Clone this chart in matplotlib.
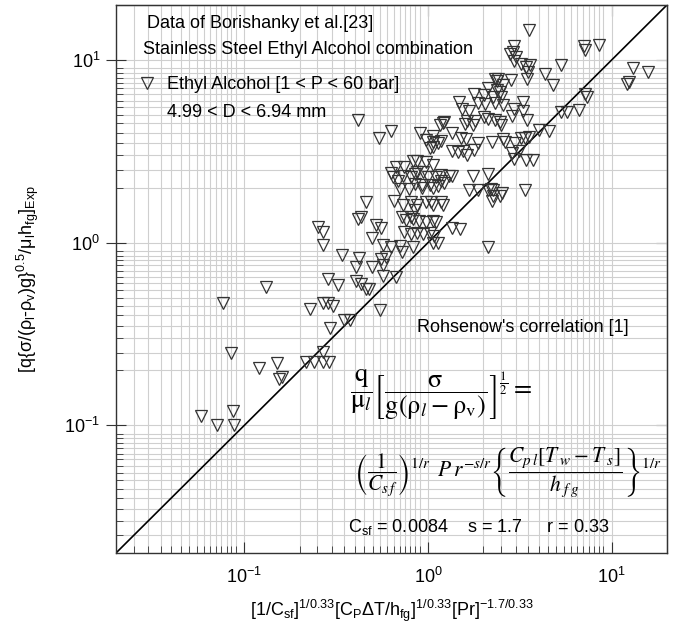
import numpy as np
import matplotlib
matplotlib.use("Agg")
import matplotlib.pyplot as plt
from matplotlib.ticker import LogLocator, LogFormatterMathtext, NullFormatter

plt.rcParams["font.family"] = "Liberation Sans"
plt.rcParams["mathtext.fontset"] = "custom"
plt.rcParams["mathtext.rm"] = "Liberation Sans"
plt.rcParams["mathtext.it"] = "Liberation Sans"
plt.rcParams["mathtext.bf"] = "Liberation Sans:bold"
plt.rcParams["axes.unicode_minus"] = False

# Borishansky et al. data, stainless steel / ethyl alcohol
# x: Rohsenow group, y: measured boiling group
x_pred = [0.058, 0.071, 0.087, 0.088, 0.076, 0.084, 0.131, 0.120, 0.150, 0.154,
          0.161, 0.227, 0.217, 0.239, 0.268, 0.267, 0.289, 0.252, 0.269, 0.267,
          0.340, 0.286, 0.325, 0.267, 0.284, 0.302, 0.294, 0.349, 0.375, 0.546,
          0.415, 0.457, 0.417, 0.433, 0.518, 0.552, 0.496, 0.567, 0.422, 0.404,
          0.496, 0.552, 0.567, 0.592, 0.404, 0.433, 0.457, 0.478, 0.567, 0.667,
          0.543, 0.632,
          0.907, 0.973, 1.06, 1.13, 1.07, 1.03, 1.21, 1.22, 1.35, 1.51,
          1.62, 1.86, 2.22, 1.56, 1.35, 1.46, 1.63, 1.78, 2.57, 2.64,
          0.828, 0.874, 0.973, 1.06, 0.743, 0.667, 0.625, 0.642, 0.685, 0.731,
          0.806, 0.850, 0.874, 0.937, 1.00, 1.11, 1.18, 1.30, 1.35, 1.18,
          1.22, 1.76, 2.13, 0.850, 0.922, 1.03, 0.704, 0.784, 0.922, 1.06,
          1.13, 1.67, 1.86, 2.11, 2.25, 2.53, 3.37, 2.25, 2.22, 2.46,
          0.649, 0.731, 0.806, 0.874, 0.973, 1.04, 1.06, 1.18, 1.21, 0.850,
          0.723, 0.806, 0.898, 0.973, 0.828, 0.763, 1.06, 1.11, 0.743, 0.806,
          0.874, 0.937, 1.03, 1.08, 1.35, 1.50, 1.06, 1.13, 0.828, 0.704,
          0.632, 0.723, 2.11,
          3.56, 2.94, 2.91, 2.79, 3.03, 2.94, 3.19, 3.61, 3.42, 3.50,
          3.46, 4.34, 5.27, 7.06, 8.53, 7.17, 13.0, 15.8, 12.1, 12.5,
          2.31, 2.41, 2.84, 2.37, 2.55, 2.13, 2.37, 2.48, 1.79, 2.02,
          2.25, 2.50, 3.28, 1.86, 2.04, 2.31, 2.57, 2.94, 3.28, 1.54,
          1.67, 1.48, 1.63, 1.81, 2.02, 2.13, 2.31, 2.48, 2.50, 2.87,
          3.46, 4.03, 4.58, 5.27, 5.71, 6.61, 7.31, 7.15, 2.99, 3.19,
          3.37, 3.56, 2.87, 3.11, 2.94, 3.42, 3.75, 2.19, 1.16, 1.58,
          1.76, 1.06, 1.18, 4.77]
y_exp = [0.113, 0.100, 0.119, 0.100, 0.465, 0.248, 0.574, 0.207, 0.218, 0.180,
         0.183, 0.431, 0.221, 0.221, 0.253, 0.221, 0.221, 1.22, 1.15, 0.965,
         0.855, 0.635, 0.583, 0.470, 0.470, 0.447, 0.342, 0.375, 0.378, 0.429,
         4.72, 1.67, 1.34, 1.39, 1.25, 1.21, 1.06, 0.965, 0.826, 0.739,
         0.739, 0.818, 0.750, 0.838, 0.620, 0.595, 0.560, 0.555, 0.658, 0.645,
         3.74, 4.06,
         3.96, 3.65, 3.56, 3.52, 3.32, 3.28, 4.51, 4.60, 4.00, 3.76,
         3.71, 3.52, 3.56, 3.16, 3.19, 3.14, 3.03, 3.22, 3.71, 3.54,
         2.81, 2.81, 2.78, 2.67, 2.58, 2.60, 2.42, 2.30, 2.18, 2.32,
         2.30, 2.39, 2.44, 2.44, 2.30, 2.30, 2.36, 2.33, 2.33, 2.18,
         2.11, 2.33, 2.37, 2.10, 2.08, 2.08, 1.97, 1.97, 1.99, 1.99,
         2.05, 1.95, 1.95, 1.95, 1.93, 1.88, 1.93, 1.80, 1.70, 1.81,
         1.68, 1.61, 1.66, 1.61, 1.66, 1.66, 1.61, 1.66, 1.61, 1.50,
         1.39, 1.39, 1.32, 1.29, 1.35, 1.33, 1.32, 1.30, 1.15, 1.12,
         1.13, 1.11, 1.13, 1.09, 1.21, 1.19, 1.00, 1.00, 0.951, 0.960,
         0.951, 0.891, 0.946,
         14.6, 11.9, 11.1, 10.8, 10.4, 9.90, 9.51, 9.41, 9.18, 8.60,
         7.89, 8.38, 9.41, 11.9, 12.1, 11.4, 9.0, 8.6, 7.4, 7.6,
         7.89, 7.89, 7.81, 7.69, 7.31, 7.03, 6.89, 6.72, 6.55, 6.45,
         6.29, 6.29, 5.92, 5.83, 5.77, 5.83, 5.69, 5.41, 5.27, 5.36,
         5.27, 5.92, 4.65, 4.65, 4.89, 4.77, 4.70, 4.58, 4.38, 4.94,
         4.70, 4.16, 4.10, 5.19, 5.20, 5.33, 6.30, 6.49, 3.49, 3.76,
         3.76, 3.80, 3.11, 3.19, 2.88, 2.84, 2.84, 1.97, 4.42, 4.49,
         4.42, 3.84, 3.61, 7.30]

# y = x parity line
parity = [0.02, 20]

LIMITS = (0.02, 20)
MINOR_SUBS = np.arange(2, 9.5, 0.5)
GRID = "#cfcfcf"
EDGE = "#333333"

fig = plt.figure(figsize=(6.75, 6.29), dpi=100)
ax = fig.add_axes([0.172, 0.121, 0.816, 0.871])
ax.set_xscale("log")
ax.set_yscale("log")
ax.set_xlim(LIMITS)
ax.set_ylim(LIMITS)

ax.plot(parity, parity, color="black", lw=1.2, zorder=2)
ax.plot(x_pred, y_exp, ls="none", marker="v", ms=8, mfc="none", mec=EDGE,
        mew=0.9, zorder=3, label="Ethyl Alcohol [1 < P < 60 bar]")

for axis in (ax.xaxis, ax.yaxis):
    axis.set_major_locator(LogLocator(base=10, numticks=10))
    axis.set_minor_locator(LogLocator(base=10, subs=MINOR_SUBS, numticks=100))
    axis.set_major_formatter(LogFormatterMathtext())
    axis.set_minor_formatter(NullFormatter())

ax.grid(True, which="both", color=GRID, lw=0.8)
ax.set_axisbelow(True)
for sp in ax.spines.values():
    sp.set_color(EDGE)
    sp.set_linewidth(1.0)

ax.tick_params(axis="both", which="both", color=EDGE, labelsize=13)
ax.tick_params(axis="y", which="major", direction="inout", length=15, pad=4)
ax.tick_params(axis="y", which="minor", direction="in", length=5)
ax.tick_params(axis="x", which="major", direction="in", length=8, pad=10)
ax.tick_params(axis="x", which="minor", direction="in", length=5)

# inward ticks on the top and right frame
top = ax.secondary_xaxis("top")
right = ax.secondary_yaxis("right")
for sec, axis in ((top, top.xaxis), (right, right.yaxis)):
    axis.set_major_locator(LogLocator(base=10, numticks=10))
    axis.set_minor_locator(LogLocator(base=10, subs=MINOR_SUBS, numticks=100))
    axis.set_major_formatter(NullFormatter())
    axis.set_minor_formatter(NullFormatter())
    sec.tick_params(which="major", direction="in", length=8, color=EDGE)
    sec.tick_params(which="minor", direction="in", length=5, color=EDGE)

ax.set_xlabel(r"[1/C$_{\rm sf}$]$^{1/0.33}$[C$_{\rm P}\Delta$T/h$_{\rm fg}$]"
              r"$^{1/0.33}$[Pr]$^{-1.7/0.33}$", fontsize=13, labelpad=8)
ax.set_ylabel(r"[q{$\sigma$/($\rho_{\rm l}$-$\rho_{\rm v}$)g}$^{0.5}$/"
              r"$\mu_{\rm l}$h$_{\rm fg}$]$_{\rm Exp}$", fontsize=13, labelpad=17)

ax.text(0.056, 0.967, "Data of Borishanky et al.[23]", transform=ax.transAxes,
        fontsize=13, va="center")
ax.text(0.049, 0.918, "Stainless Steel Ethyl Alcohol combination",
        transform=ax.transAxes, fontsize=13, va="center")
ax.legend(loc="upper left", bbox_to_anchor=(0.040, 0.870), frameon=False,
          fontsize=13, handlelength=1.0, handletextpad=0.6, borderpad=0,
          borderaxespad=0)
ax.text(0.0926, 0.803, "4.99 < D < 6.94 mm", transform=ax.transAxes,
        fontsize=13, va="center")

# Rohsenow correlation written out on the plot
ax.text(0.546, 0.4106, "Rohsenow's correlation [1]", transform=ax.transAxes,
        fontsize=13, va="center")
ax.text(0.425, 0.288,
        r"$\dfrac{\mathrm{q}}{\mathrm{\mu}_l}\left[\dfrac{\mathrm{\sigma}}"
        r"{\mathrm{g}(\mathrm{\rho}_l-\mathrm{\rho}_\mathrm{v})}"
        r"\right]^{\frac{1}{2}} =$",
        transform=ax.transAxes, fontsize=19, va="center", math_fontfamily="stix")
ax.text(0.432, 0.146,
        r"$\left(\dfrac{\mathrm{1}}{C_{s\,f}}\right)^{1/r}\;\;P\,r^{-s/r}"
        r"\left\{\dfrac{C_{p\,l}[T_{\;w}-T_{\;s}]}{h_{\;f\;g}}\right\}^{1/r}$",
        transform=ax.transAxes, fontsize=15.5, va="center", math_fontfamily="stix")
ax.text(0.421, 0.047, r"C$_{\rm sf}$ = 0.0084    s = 1.7     r = 0.33",
        transform=ax.transAxes, fontsize=13, va="center")

fig.savefig("out.png", dpi=100)
